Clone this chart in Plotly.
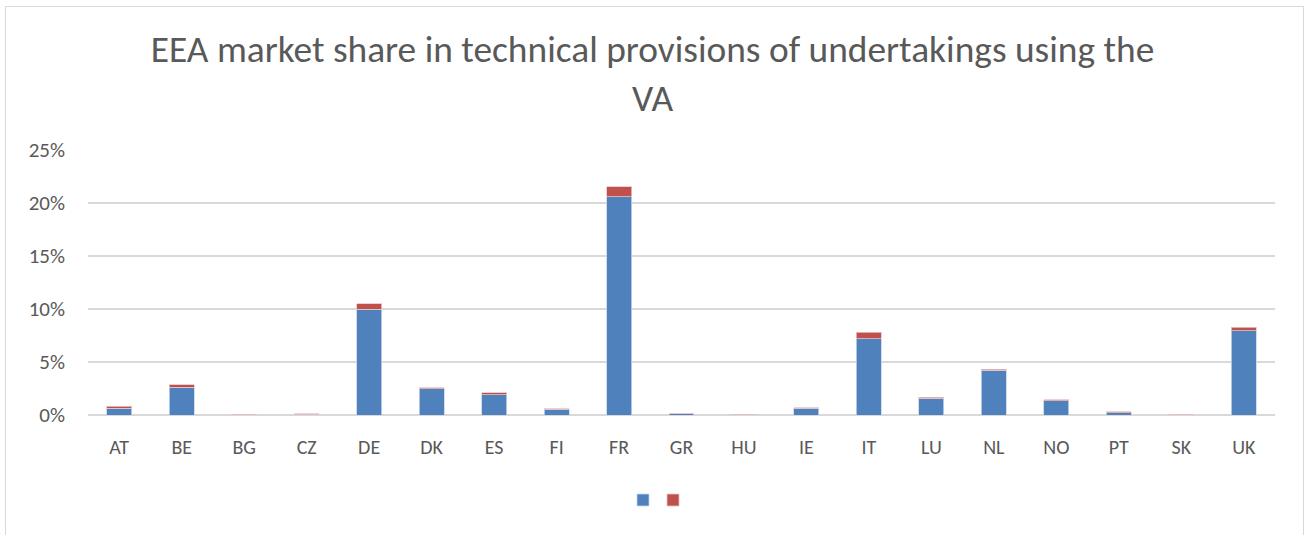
import plotly.graph_objects as go

# Countries on the category axis
countries = ["AT", "BE", "BG", "CZ", "DE", "DK", "ES", "FI", "FR", "GR",
             "HU", "IE", "IT", "LU", "NL", "NO", "PT", "SK", "UK"]

# Market share (%) split into the two stacked components
share_lower = [0.66, 2.60, 0.02, 0.06, 9.96, 2.48, 1.91, 0.53, 20.57, 0.10,
               0.03, 0.62, 7.20, 1.57, 4.21, 1.35, 0.22, 0.01, 7.95]
share_upper = [0.15, 0.26, 0.04, 0.06, 0.54, 0.10, 0.19, 0.07, 0.94, 0.02,
               0.06, 0.07, 0.63, 0.09, 0.13, 0.09, 0.09, 0.04, 0.31]

y_ticks = [0, 5, 10, 15, 20, 25]
y_tick_labels = ["0%", "5%", "10%", "15%", "20%", "25%"]

title_text = "EEA market share in technical provisions of undertakings using the<br>VA"

BLUE = "#4F81BD"
RED = "#C0504D"
TEXT = "#595959"
GRID = "#D9D9D9"
FONT = "Carlito, Lato, sans-serif"

fig = go.Figure()
fig.add_trace(go.Bar(x=countries, y=share_lower, name="", legend="legend",
                     marker=dict(color=BLUE, line=dict(color="#C6D4E8", width=0.8))))
fig.add_trace(go.Bar(x=countries, y=share_upper, name="", legend="legend2",
                     marker=dict(color=RED, line=dict(color="#E8C4C3", width=0.8))))

W, H = 1305, 535
L, R, T, B = 88, 30, 150, 120
pw, ph = W - L - R, H - T - B

def px_x(v):
    return (v - L) / pw

def px_y(v):
    return (H - B - v) / ph

# each key sits in its own legend so the two swatches can be spaced closely
legend_common = dict(orientation="h", xref="container", xanchor="left",
                     y=(H - 500) / H, yref="container", yanchor="middle",
                     font=dict(size=1), bgcolor="rgba(0,0,0,0)")

fig.update_layout(
    width=W, height=H,
    barmode="stack", bargap=0.6,
    paper_bgcolor="white", plot_bgcolor="white",
    margin=dict(l=L, r=R, t=T, b=B),
    font=dict(family=FONT, color=TEXT, size=18),
    title=dict(text=title_text, x=0.5, xref="container", xanchor="center",
               y=1 - 62 / H, yref="container", yanchor="top",
               font=dict(family=FONT, size=37.4, color=TEXT)),
    showlegend=True,
    legend=dict(x=623 / W, **legend_common),
    legend2=dict(x=653 / W, **legend_common),
    xaxis=dict(showgrid=False, showline=False, ticks="",
               ticklabelstandoff=18,
               tickfont=dict(size=20, color=TEXT)),
    yaxis=dict(range=[0, 25], tickvals=y_ticks, ticktext=y_tick_labels,
               showgrid=True, gridcolor=GRID, gridwidth=1.5,
               zeroline=True, zerolinecolor=GRID, zerolinewidth=1.5,
               showline=False, ticks="", ticklabelstandoff=22,
               tickfont=dict(size=21, color=TEXT)),
    shapes=[dict(type="rect", xref="paper", yref="paper",
                 x0=px_x(5.5), x1=px_x(1303.5), y0=px_y(560), y1=px_y(6.5),
                 line=dict(color=GRID, width=1), fillcolor="rgba(0,0,0,0)",
                 layer="below")],
)

fig.write_html("out.html")
